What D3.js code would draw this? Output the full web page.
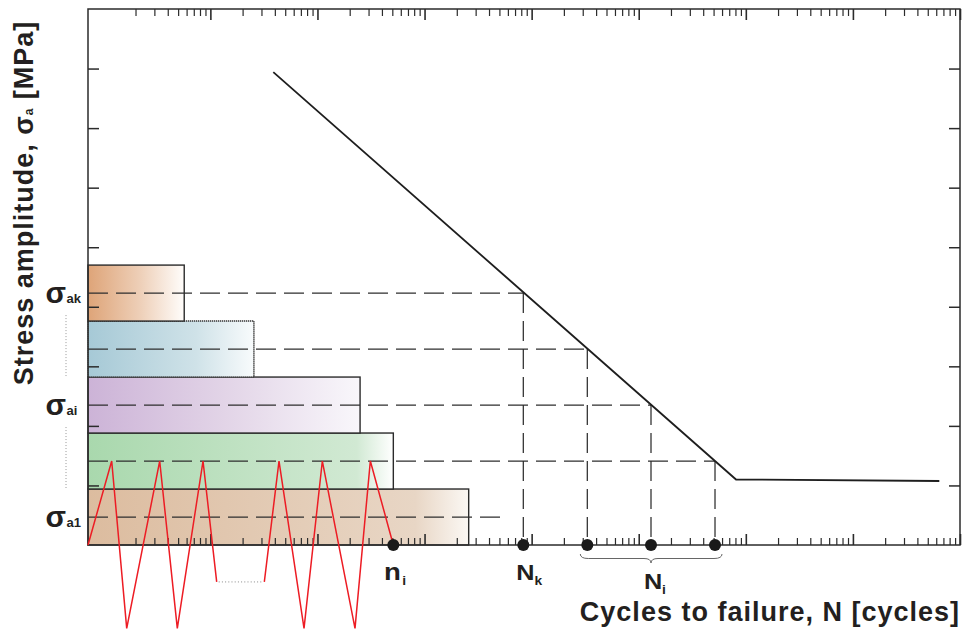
<!DOCTYPE html>
<html>
<head>
<meta charset="utf-8">
<script src="https://cdn.jsdelivr.net/npm/d3@7"></script>
<style>
  body { margin: 0; background: #fff; }
  svg { display: block; }
  text { font-family: "Liberation Sans", Arial, Helvetica, sans-serif; font-weight: bold; fill: #231f20; }
</style>
</head>
<body>
<svg id="chart" width="963" height="630"></svg>
<script>
// ---- Block loading spectrum (bottom block first) ----
const blockBottom  = [0, 0.94, 1.88, 2.82, 3.76];        // stress, lower edge of block
const blockTop     = [0.94, 1.88, 2.82, 3.76, 4.70];     // stress, upper edge of block
const blockStress  = [0.47, 1.41, 2.35, 3.29, 4.23];     // stress amplitude of each block
const blockCycles  = [2583, 511, 250, 25.5, 5.7];        // applied cycles n in each block
const blockGradients = [
  [[0, "#dcbc9f"], [0.86, "#e8d6c5"], [1, "#fbf8f4"]],
  [[0, "#a9d8ad"], [0.88, "#d1e9d3"], [1, "#ffffff"]],
  [[0, "#ccb3d7"], [0.5, "#e2d4e7"], [1, "#f9f7fb"]],
  [[0, "#a6c9d6"], [0.65, "#cfe2e8"], [1, "#f8fbfc"]],
  [[0, "#dea478"], [0.55, "#eed0b9"], [1, "#fffdfb"]]
];
const blockDotted = [false, false, false, true, false];

// Reference lines at each amplitude: where each horizontal dashed line stops
const refLineEnd = [5290, 515600, 130200, 33100, 8360];
// Cycles to failure N (blocks 2..5)
const failureStress = [1.41, 2.35, 3.29, 4.23];
const failureCycles = [515600, 130200, 33100, 8360];

// S-N (Wöhler) curve with endurance knee
const snCycles = [38.7, 8.1e5, 6.41e7];
const snStress = [7.94, 1.10, 1.075];

// Stress-time history sketch (time in % of n_i), split by the "....." gap
const historyTime1   = [0, 7.76, 12.68, 23.48, 29.25, 37.67, 42.15];
const historyStress1 = [0, 1.41, -1.40, 1.41, -1.40, 1.41, -0.62];
const historyTime2   = [57.75, 62.56, 70.75, 76.75, 87.45, 92.47, 100];
const historyStress2 = [-0.62, 1.41, -1.40, 1.41, -1.40, 1.41, 0];
const appliedCycles = 511;   // n_i

// Axis ticks
const decades = [0, 1, 2, 3, 4, 5, 6, 7];
const minorMultipliers = [2, 3, 4, 5, 6, 7, 8, 9];
const stressTicks = [1, 2, 3, 4, 5, 6, 7, 8];

// Labels
const levelLabels = [
  { level: 4.23, sub: "ak" },
  { level: 2.35, sub: "ai" },
  { level: 0.47, sub: "a1" }
];
const xTitle = "Cycles to failure, N [cycles]";

// ---- Layout ----
const svg = d3.select("#chart");
const plot = { left: 88, right: 960, top: 9, bottom: 545 };

const x = d3.scaleLog().domain([0.72, 1e8]).range([plot.left, plot.right]);
const y = d3.scaleLinear().domain([0, 9]).range([plot.bottom, plot.top]);
const t = d3.scaleLinear().domain([0, 100]).range([x(0.72), x(appliedCycles)]);

// gradients
const defs = svg.append("defs");
blockGradients.forEach((stops, i) => {
  const g = defs.append("linearGradient").attr("id", "grad" + i)
    .attr("x1", 0).attr("x2", 1).attr("y1", 0).attr("y2", 0);
  stops.forEach(s => g.append("stop").attr("offset", s[0]).attr("stop-color", s[1]));
});

// blocks
const blocks = d3.range(blockCycles.length);
svg.append("g").selectAll("rect").data(blocks).join("rect")
  .attr("x", x(0.72))
  .attr("y", i => y(blockTop[i]))
  .attr("width", i => x(blockCycles[i]) - x(0.72))
  .attr("height", i => y(blockBottom[i]) - y(blockTop[i]))
  .attr("fill", i => `url(#grad${i})`)
  .attr("stroke", i => blockDotted[i] ? "#333" : "#2b2b2b")
  .attr("stroke-width", i => blockDotted[i] ? 1.6 : 1.4)
  .attr("stroke-dasharray", i => blockDotted[i] ? "1.3,0.7" : null);

// horizontal dashed reference lines
const dash = "20,8";
svg.append("g").selectAll("line").data(blocks).join("line")
  .attr("x1", x(0.72)).attr("x2", i => x(refLineEnd[i]))
  .attr("y1", i => y(blockStress[i])).attr("y2", i => y(blockStress[i]))
  .attr("stroke", "#2e2e2e").attr("stroke-width", 1.25)
  .attr("stroke-dasharray", dash);

// vertical dashed drop lines
svg.append("g").selectAll("line").data(failureCycles).join("line")
  .attr("x1", d => x(d)).attr("x2", d => x(d))
  .attr("y1", (d, i) => y(failureStress[i])).attr("y2", y(0))
  .attr("stroke", "#2e2e2e").attr("stroke-width", 1.25)
  .attr("stroke-dasharray", dash);

// S-N curve
const snLine = d3.line().x(d => x(d[0])).y(d => y(d[1]));
svg.append("path")
  .attr("d", snLine(d3.zip(snCycles, snStress)))
  .attr("fill", "none").attr("stroke", "#1e1e1e").attr("stroke-width", 1.8);

// frame
svg.append("rect")
  .attr("x", plot.left).attr("y", plot.top)
  .attr("width", plot.right - plot.left).attr("height", plot.bottom - plot.top)
  .attr("fill", "none").attr("stroke", "#2b2b2b").attr("stroke-width", 1.5);

// log ticks on top and bottom
const minorTicks = [], majorTicks = [];
decades.forEach(d => {
  minorMultipliers.forEach(m => minorTicks.push(m * Math.pow(10, d)));
  majorTicks.push(Math.pow(10, d + 1));
});
const allXTicks = minorTicks.concat(majorTicks);
const isMajor = v => majorTicks.includes(v);

function styleTicks(g, len) {
  g.select(".domain").remove();
  g.selectAll(".tick text").remove();
  g.selectAll(".tick line").attr("stroke", "#2b2b2b").attr("stroke-width", 1.2);
  g.selectAll(".tick").filter(isMajor).select("line").attr("y2", len).attr("stroke-width", 1.6);
}
svg.append("g").attr("transform", `translate(0,${plot.bottom})`)
  .call(d3.axisBottom(x).tickValues(allXTicks).tickSizeInner(-7).tickSizeOuter(0).tickFormat(""))
  .call(g => styleTicks(g, -11));
svg.append("g").attr("transform", `translate(0,${plot.top})`)
  .call(d3.axisTop(x).tickValues(allXTicks).tickSizeInner(-7).tickSizeOuter(0).tickFormat(""))
  .call(g => styleTicks(g, 11));

// stress ticks left and right
function styleY(g) {
  g.select(".domain").remove();
  g.selectAll(".tick text").remove();
  g.selectAll(".tick line").attr("stroke", "#2b2b2b").attr("stroke-width", 1.5);
}
svg.append("g").attr("transform", `translate(${plot.left},0)`)
  .call(d3.axisLeft(y).tickValues(stressTicks).tickSizeInner(-11).tickSizeOuter(0).tickFormat(""))
  .call(styleY);
svg.append("g").attr("transform", `translate(${plot.right},0)`)
  .call(d3.axisRight(y).tickValues(stressTicks).tickSizeInner(-11).tickSizeOuter(0).tickFormat(""))
  .call(styleY);

// stress-time history
const hLine = d3.line().x(d => t(d[0])).y(d => y(d[1]));
[[historyTime1, historyStress1], [historyTime2, historyStress2]].forEach(([tt, ss]) => {
  svg.append("path").attr("d", hLine(d3.zip(tt, ss)))
    .attr("fill", "none").attr("stroke", "#ed1c24").attr("stroke-width", 1.5)
    .attr("stroke-linejoin", "miter");
});
svg.append("line")
  .attr("x1", t(historyTime1[historyTime1.length - 1]) + 2).attr("x2", t(historyTime2[0]) - 1)
  .attr("y1", y(historyStress1[historyStress1.length - 1])).attr("y2", y(historyStress2[0]))
  .attr("stroke", "#8a8a8a").attr("stroke-width", 1).attr("stroke-dasharray", "1,2.2");

// markers on the N axis
svg.append("g").selectAll("circle").data([appliedCycles].concat(failureCycles)).join("circle")
  .attr("cx", d => x(d)).attr("cy", y(0)).attr("r", 6).attr("fill", "#1a1a1a");

// brace under the N_i group
{
  const x1 = x(failureCycles[2]) - 7, x2 = x(failureCycles[0]) + 7, xm = x(failureCycles[1]);
  const yt = y(0) + 9, ym = y(0) + 13.5, yb = y(0) + 18;
  const p = d3.path();
  p.moveTo(x1, yt); p.quadraticCurveTo(x1, ym, x1 + 8, ym); p.lineTo(xm - 7, ym);
  p.quadraticCurveTo(xm, ym, xm, yb); p.quadraticCurveTo(xm, ym, xm + 7, ym);
  p.lineTo(x2 - 8, ym); p.quadraticCurveTo(x2, ym, x2, yt);
  svg.append("path").attr("d", p.toString()).attr("fill", "none")
    .attr("stroke", "#666").attr("stroke-width", 1);
}

// labels under markers (slightly widened glyphs)
function symbolLabel(cx, baseline, main, sub, size) {
  const g = svg.append("g").attr("transform", `translate(${cx},${baseline}) scale(1.15,1)`);
  g.append("text").attr("x", 0).attr("y", 0).attr("text-anchor", "middle")
    .attr("font-size", size).text(main);
  g.append("text").attr("x", size * 0.36).attr("y", 5)
    .attr("font-size", 12).text(sub);
}
symbolLabel(x(appliedCycles) - 1, 580, "n", "i", 24);
symbolLabel(x(failureCycles[3]) + 2, 580, "N", "k", 22);
symbolLabel(x(failureCycles[1]) + 2, 589, "N", "i", 22);

// amplitude labels on the left
levelLabels.forEach(l => {
  svg.append("text").attr("x", 66).attr("y", y(l.level) + 10)
    .attr("text-anchor", "end").attr("font-size", 30).text("σ");
  svg.append("text").attr("x", 66.5).attr("y", y(l.level) + 10)
    .attr("font-size", 13).text(l.sub);
});
// dotted separators between amplitude labels
for (let i = 0; i < levelLabels.length - 1; i++) {
  svg.append("line")
    .attr("x1", 66).attr("x2", 66)
    .attr("y1", y(levelLabels[i].level) + 22).attr("y2", y(levelLabels[i + 1].level) - 29)
    .attr("stroke", "#999").attr("stroke-width", 1).attr("stroke-dasharray", "1,2");
}

// axis titles
svg.append("text")
  .attr("x", plot.right).attr("y", 621).attr("text-anchor", "end")
  .attr("font-size", 27).attr("letter-spacing", 1).text(xTitle);

const yt = svg.append("text")
  .attr("transform", "translate(33,203) rotate(-90)")
  .attr("text-anchor", "middle").attr("font-size", 27).attr("letter-spacing", 1);
yt.append("tspan").text("Stress amplitude, σ");
yt.append("tspan").attr("font-size", 12).attr("dy", 0).text("a");
yt.append("tspan").attr("dy", 0).text(" [MPa]");
</script>
</body>
</html>
